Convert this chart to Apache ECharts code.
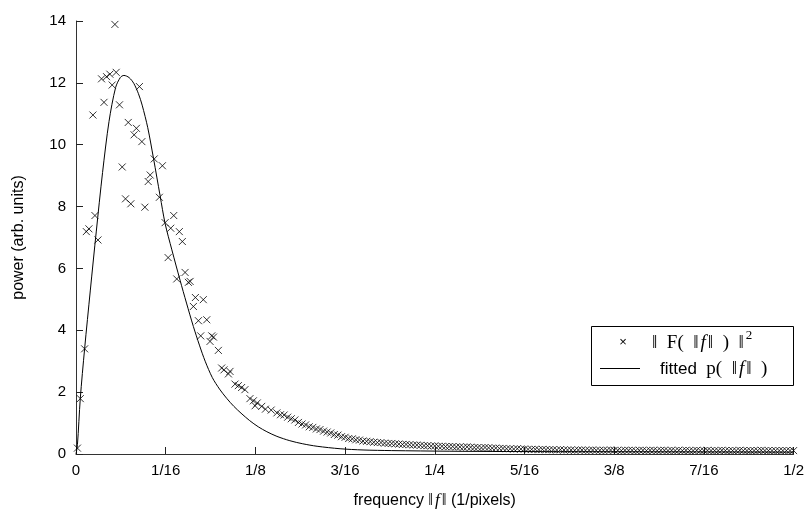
<!DOCTYPE html>
<html>
<head>
<meta charset="utf-8">
<script src="https://cdn.jsdelivr.net/npm/echarts@6/dist/echarts.min.js"></script>
<style>
  html, body { margin: 0; padding: 0; background: #fff; }
  #chart { width: 807px; height: 516px; }
</style>
</head>
<body>
<div id="chart"></div>
<script>
// tick labels on the frequency axis (steps of 1/16)
const freqTickLabels = ["0", "1/16", "1/8", "3/16", "1/4", "5/16", "3/8", "7/16", "1/2"];

// measured power spectrum ||F(||f||)||^2 : [frequency, power]
const measuredPoints = [
  [0.001, 0.19], [0.003, 1.79], [0.006, 3.4], [0.0072, 7.19], [0.009, 7.28],
  [0.0118, 10.96], [0.0132, 7.71], [0.0153, 6.92], [0.0178, 12.13], [0.0195, 11.37],
  [0.0213, 12.2], [0.0236, 12.28], [0.0252, 11.93], [0.0271, 13.89], [0.028, 12.34],
  [0.0303, 11.29], [0.0322, 9.28], [0.0345, 8.25], [0.0364, 10.72], [0.0382, 8.09],
  [0.0405, 10.32], [0.0421, 10.53], [0.0442, 11.88], [0.0459, 10.1], [0.048, 7.98],
  [0.0503, 8.81], [0.0517, 9.02], [0.0545, 9.54], [0.0581, 8.3], [0.0602, 9.32],
  [0.0621, 7.48], [0.0642, 6.35], [0.066, 7.3], [0.0681, 7.71], [0.0702, 5.66],
  [0.072, 7.19], [0.0741, 6.87], [0.076, 5.87], [0.0783, 5.55], [0.0795, 5.58],
  [0.0818, 4.77], [0.0832, 5.06], [0.0853, 4.31], [0.0869, 3.82], [0.0887, 4.99],
  [0.0911, 4.34], [0.0934, 3.64], [0.0946, 3.82], [0.0958, 3.78], [0.0992, 3.35],
  [0.1015, 2.78], [0.1031, 2.72], [0.1062, 2.59], [0.1073, 2.67], [0.1108, 2.26],
  [0.1131, 2.21], [0.1154, 2.15], [0.1177, 2.08], [0.1212, 1.79], [0.1236, 1.72],
  [0.1248, 1.56], [0.1263, 1.65], [0.1294, 1.54], [0.132, 1.45], [0.136, 1.42],
  [0.14, 1.33], [0.1425, 1.27], [0.145, 1.26], [0.1475, 1.19], [0.15, 1.14],
  [0.1525, 1.1], [0.155, 1.02], [0.1575, 0.97], [0.16, 0.94], [0.1625, 0.88],
  [0.165, 0.86], [0.1675, 0.81], [0.17, 0.79], [0.1725, 0.74], [0.175, 0.71],
  [0.1775, 0.68], [0.18, 0.63], [0.1825, 0.61], [0.185, 0.56], [0.1875, 0.54],
  [0.19, 0.5], [0.1925, 0.49], [0.195, 0.46], [0.1975, 0.45], [0.2, 0.42],
  [0.2025, 0.41], [0.205, 0.4], [0.2075, 0.38], [0.21, 0.37], [0.2125, 0.37],
  [0.215, 0.35], [0.2175, 0.34], [0.22, 0.34], [0.2225, 0.33], [0.225, 0.32],
  [0.2275, 0.31], [0.23, 0.31], [0.2325, 0.3], [0.235, 0.29], [0.2375, 0.29],
  [0.24, 0.28], [0.2425, 0.27], [0.245, 0.27], [0.2475, 0.26], [0.25, 0.26],
  [0.2525, 0.25], [0.255, 0.25], [0.2575, 0.24], [0.26, 0.24], [0.2625, 0.24],
  [0.265, 0.23], [0.2675, 0.23], [0.27, 0.22], [0.2725, 0.23], [0.275, 0.22],
  [0.2775, 0.21], [0.28, 0.21], [0.2825, 0.2], [0.285, 0.21], [0.2875, 0.2],
  [0.29, 0.19], [0.2925, 0.19], [0.295, 0.18], [0.2975, 0.18], [0.3, 0.17],
  [0.3025, 0.17], [0.305, 0.16], [0.3075, 0.17], [0.31, 0.16], [0.3125, 0.16],
  [0.315, 0.15], [0.3175, 0.15], [0.32, 0.15], [0.3225, 0.14], [0.325, 0.15],
  [0.3275, 0.14], [0.33, 0.14], [0.3325, 0.14], [0.335, 0.13], [0.3375, 0.14],
  [0.34, 0.13], [0.3425, 0.13], [0.345, 0.13], [0.3475, 0.12], [0.35, 0.13],
  [0.3525, 0.13], [0.355, 0.12], [0.3575, 0.12], [0.36, 0.13], [0.3625, 0.12],
  [0.365, 0.12], [0.3675, 0.12], [0.37, 0.12], [0.3725, 0.13], [0.375, 0.12],
  [0.3775, 0.12], [0.38, 0.11], [0.3825, 0.12], [0.385, 0.12], [0.3875, 0.12],
  [0.39, 0.11], [0.3925, 0.12], [0.395, 0.12], [0.3975, 0.11], [0.4, 0.12],
  [0.4025, 0.12], [0.405, 0.11], [0.4075, 0.12], [0.41, 0.12], [0.4125, 0.11],
  [0.415, 0.12], [0.4175, 0.11], [0.42, 0.12], [0.4225, 0.11], [0.425, 0.12],
  [0.4275, 0.11], [0.43, 0.11], [0.4325, 0.12], [0.435, 0.11], [0.4375, 0.11],
  [0.44, 0.12], [0.4425, 0.11], [0.445, 0.11], [0.4475, 0.11], [0.45, 0.12],
  [0.4525, 0.11], [0.455, 0.11], [0.4575, 0.11], [0.46, 0.11], [0.4625, 0.12],
  [0.465, 0.11], [0.4675, 0.11], [0.47, 0.11], [0.4725, 0.11], [0.475, 0.11],
  [0.4775, 0.12], [0.48, 0.11], [0.4825, 0.11], [0.485, 0.11], [0.4875, 0.11],
  [0.49, 0.11], [0.4925, 0.11], [0.495, 0.11], [0.4975, 0.11], [0.5, 0.11]
];

// fitted model p(||f||) : [frequency, power]
const fittedCurve = [
  [0, 0], [0.001, 0.3], [0.003, 1.8], [0.006, 3.4], [0.01, 5.3],
  [0.0141, 7.18], [0.0185, 9.1], [0.023, 10.75], [0.0276, 11.85], [0.031, 12.18],
  [0.0334, 12.24], [0.037, 12.17], [0.0403, 11.98], [0.0435, 11.65], [0.0461, 11.28],
  [0.05, 10.55], [0.054, 9.56], [0.0586, 8.35], [0.0621, 7.45], [0.0668, 6.6],
  [0.0725, 5.62], [0.077, 4.88], [0.0818, 4.12], [0.086, 3.52], [0.09, 3.0],
  [0.095, 2.47], [0.1, 2.1], [0.105, 1.8], [0.11, 1.54], [0.115, 1.32],
  [0.121, 1.08], [0.127, 0.88], [0.133, 0.72], [0.14, 0.57], [0.149, 0.43],
  [0.158, 0.33], [0.168, 0.25], [0.184, 0.17], [0.2, 0.13], [0.22, 0.11],
  [0.26, 0.09], [0.3, 0.08], [0.4, 0.07], [0.5, 0.06]
];

let myChart = echarts.init(document.getElementById("chart"));

const sansFont = "'Liberation Sans', Arial, sans-serif";
const serifFont = "'Liberation Serif', 'Times New Roman', serif";

let option = {
  backgroundColor: "#fff",
  animation: false,
  grid: {
    left: 76,
    right: 12,
    top: 21,
    bottom: 62
  },
  xAxis: {
    type: "value",
    min: 0,
    max: 0.5,
    interval: 0.0625,
    name: "{t|frequency }{s|‖}{i|f}{s|‖}{t| (1/pixels)}",
    nameLocation: "middle",
    nameGap: 38,
    nameTextStyle: {
      rich: {
        t: { fontFamily: sansFont, fontSize: 16, color: "#000" },
        s: { fontFamily: serifFont, fontSize: 17, color: "#000" },
        i: { fontFamily: serifFont, fontSize: 17, fontStyle: "italic", color: "#000", padding: [0, 2, 0, 2] }
      }
    },
    axisLine: { lineStyle: { color: "#333", width: 1 } },
    axisTick: { inside: true, length: 7, lineStyle: { color: "#222" } },
    splitLine: { show: false },
    axisLabel: {
      color: "#000",
      fontFamily: sansFont,
      fontSize: 15,
      margin: 9,
      formatter: function (value) {
        return freqTickLabels[Math.round(value * 16)];
      }
    }
  },
  yAxis: {
    type: "value",
    min: 0,
    max: 14,
    interval: 2,
    name: "power (arb. units)",
    nameLocation: "middle",
    nameGap: 49,
    nameTextStyle: { color: "#000", fontFamily: sansFont, fontSize: 16 },
    axisLine: { show: true, lineStyle: { color: "#333", width: 1 } },
    axisTick: { show: true, inside: true, length: 7, lineStyle: { color: "#222" } },
    splitLine: { show: false },
    axisLabel: { color: "#000", fontFamily: sansFont, fontSize: 15, margin: 10 }
  },
  series: [
    {
      name: "measured",
      type: "scatter",
      data: measuredPoints,
      symbol: "path://M0,0L10,10M10,0L0,10",
      symbolSize: 7,
      itemStyle: { color: "transparent", borderColor: "#000", borderWidth: 1 },
      z: 3
    },
    {
      name: "fitted",
      type: "line",
      data: fittedCurve,
      smooth: 0.3,
      showSymbol: false,
      lineStyle: { color: "#000", width: 1 },
      z: 2
    }
  ],
  // legend box drawn by hand to get the mixed serif / sans text
  graphic: [
    {
      type: "rect",
      shape: { x: 591.5, y: 326.5, width: 202, height: 59 },
      style: { fill: "#fff", stroke: "#000", lineWidth: 1 },
      z: 10
    },
    {
      type: "text",
      x: 623, y: 342,
      style: { text: "×", font: "13px " + sansFont, fill: "#000", align: "center", verticalAlign: "middle" },
      z: 11
    },
    {
      type: "text",
      x: 652, y: 343,
      style: {
        text: "{s|‖  F(  ‖}{i|f}{s|‖  )  ‖}{p|2}",
        fill: "#000",
        verticalAlign: "middle",
        rich: {
          s: { fontFamily: serifFont, fontSize: 19 },
          i: { fontFamily: serifFont, fontSize: 19, fontStyle: "italic", padding: [0, 2, 0, 2] },
          p: { fontFamily: serifFont, fontSize: 13, padding: [0, 0, 14, 2] }
        }
      },
      z: 11
    },
    {
      type: "line",
      shape: { x1: 600, y1: 368.5, x2: 640, y2: 368.5 },
      style: { stroke: "#000", lineWidth: 1 },
      z: 11
    },
    {
      type: "text",
      x: 660, y: 369,
      style: {
        text: "{t|fitted }{s| p(  ‖}{i|f}{s|‖  )}",
        fill: "#000",
        verticalAlign: "middle",
        rich: {
          t: { fontFamily: sansFont, fontSize: 17 },
          s: { fontFamily: serifFont, fontSize: 19 },
          i: { fontFamily: serifFont, fontSize: 19, fontStyle: "italic", padding: [0, 2, 0, 2] }
        }
      },
      z: 11
    }
  ]
};

myChart.setOption(option);
</script>
</body>
</html>
